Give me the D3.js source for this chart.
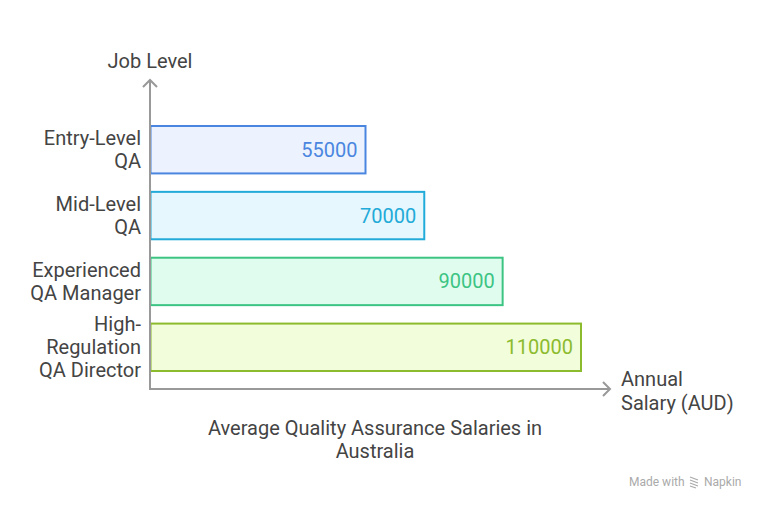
<!DOCTYPE html>
<html><head><meta charset="utf-8">
<script src="https://cdn.jsdelivr.net/npm/d3@7"></script>
<style>body{margin:0;background:#fff}svg{display:block;font-family:Roboto,"Noto Sans",sans-serif}</style>
</head><body><svg id="c" width="762" height="510"></svg>
<script>
const categories = [["Entry-Level","QA"],["Mid-Level","QA"],["Experienced","QA Manager"],["High-","Regulation","QA Director"]];
const values = [55000, 70000, 90000, 110000];
const strokes = ["#4a86e0","#22aad8","#3cc483","#8cbb2e"];
const fills = ["#ecf3fe","#e6f7fd","#e0fcef","#f2fddc"];
const yTitle = "Job Level";
const xTitle = ["Annual","Salary (AUD)"];
const title = ["Average Quality Assurance Salaries in","Australia"];

const svg = d3.select("#c");
const x = d3.scaleLinear().domain([0,110000]).range([150,581]);
const y = d3.scaleBand().domain(d3.range(values.length)).range([126,371]).paddingInner(0.28).paddingOuter(0);
const FS = 20;

const g = svg.append("g");
g.selectAll("rect").data(values).join("rect")
  .attr("x", x(0)+0.5).attr("y", (d,i)=>y(i))
  .attr("width", d=>x(d)-x(0)-0.5).attr("height", y.bandwidth())
  .attr("fill",(d,i)=>fills[i]).attr("stroke",(d,i)=>strokes[i]).attr("stroke-width",2);
g.selectAll("text.v").data(values).join("text").attr("class","v")
  .attr("x", d=>x(d)-8).attr("y",(d,i)=>y(i)+y.bandwidth()/2)
  .attr("dy","0.35em").attr("text-anchor","end").attr("font-size",FS)
  .attr("fill",(d,i)=>strokes[i]).text(d=>d);

// category labels
categories.forEach((lines,i)=>{
  const cy = y(i)+y.bandwidth()/2;
  const lh = 23;
  const t = svg.append("text").attr("text-anchor","end").attr("font-size",FS).attr("fill","#444");
  lines.forEach((l,j)=>{
    t.append("tspan").attr("x",141).attr("y", cy + (j-(lines.length-1)/2)*lh).attr("dy","0.35em").text(l);
  });
});

// axes
const ax = svg.append("g").attr("stroke","#999").attr("stroke-width",2).attr("fill","none");
ax.append("path").attr("d",`M${x(0)},389V80`);
ax.append("path").attr("d",`M143,87L150,80L157,87`);
ax.append("path").attr("d",`M149,389H610`);
ax.append("path").attr("d",`M603,382L610,389L603,396`);

svg.append("text").attr("x",150).attr("y",61).attr("dy","0.35em").attr("text-anchor","middle")
  .attr("font-size",FS).attr("fill","#444").text(yTitle);
const xt = svg.append("text").attr("font-size",FS).attr("fill","#444");
xTitle.forEach((l,j)=>xt.append("tspan").attr("x",621).attr("y",379+j*24).attr("dy","0.35em").text(l));
const tt = svg.append("text").attr("font-size",FS).attr("fill","#444").attr("text-anchor","middle");
title.forEach((l,j)=>tt.append("tspan").attr("x",375).attr("y",428+j*23).attr("dy","0.35em").text(l));

// watermark
const wm = svg.append("g").attr("fill","#aaa").attr("font-size",12);
wm.append("text").attr("x",629).attr("y",482).attr("dy","0.35em").text("Made with");
wm.append("path").attr("d","M690,477l8,3M690,480l8,3M690,483l8,3M690,486l6,2").attr("stroke","#aaa").attr("stroke-width",1.3).attr("fill","none");
wm.append("text").attr("x",704).attr("y",482).attr("dy","0.35em").text("Napkin");
</script></body></html>
